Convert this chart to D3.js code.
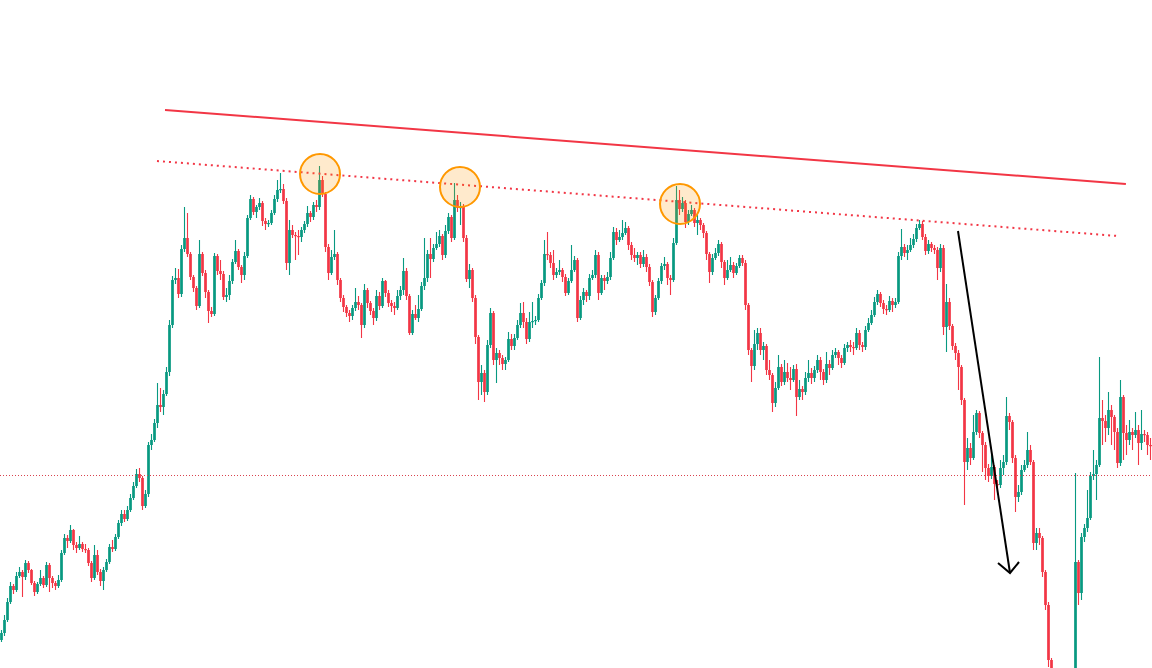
<!DOCTYPE html>
<html><head><meta charset="utf-8">
<script src="https://cdn.jsdelivr.net/npm/d3@7"></script>
<style>html,body{margin:0;padding:0;background:#fff;overflow:hidden}svg{display:block}</style>
</head>
<body>
<svg id="chart" width="1152" height="668"></svg>
<script>
// ---- data (price units) ----
const firstOpen = 60;
const closes = [
67,80,98,114,110,124,128,123,137,130,
117,108,116,122,115,135,122,117,114,120,
147,162,159,170,155,152,156,151,150,137,
122,145,128,119,130,138,153,151,163,177,
186,181,190,202,214,226,222,194,206,255,
260,277,295,293,306,328,375,420,422,406,
451,462,446,423,412,394,446,427,408,389,
386,444,429,426,403,405,419,438,449,433,
425,444,482,501,488,493,497,479,476,477,
487,501,510,511,499,437,470,465,464,463,
470,476,487,483,495,493,520,506,453,427,
443,446,420,402,393,387,384,392,398,395,
375,410,397,389,382,404,394,419,407,397,
394,392,404,410,429,404,367,386,382,391,
414,422,446,441,452,456,464,445,469,483,
462,500,492,493,462,421,430,402,363,318,
327,308,355,387,340,347,342,336,340,361,
354,362,375,387,378,361,378,379,380,402,
417,446,445,437,425,428,430,423,407,419,
430,440,382,400,408,404,422,425,445,407,
422,419,423,442,468,460,463,467,472,455,
445,442,445,436,443,433,418,388,402,419,
434,436,422,420,457,500,491,497,478,486,
490,477,480,475,467,446,428,442,447,456,
438,422,430,435,427,434,442,437,395,350,
334,356,367,350,354,330,325,297,312,333,
318,328,322,320,331,303,311,308,322,327,
322,330,340,328,320,336,332,345,348,342,
337,352,355,353,352,367,355,353,370,377,
385,398,406,397,391,390,399,395,398,444,
453,447,450,455,461,472,476,463,449,456,
452,450,432,452,373,398,374,354,347,333,
300,238,252,242,268,287,267,255,232,224,
233,216,215,232,238,284,278,242,203,208,
230,235,250,238,157,167,162,128,95,40,
12,6,3,8,2,5,9,14,138,107,
163,172,182,224,226,235,282,279,272,290,
283,268,237,303,267,260,268,265,270,257,
266,265,255,254
];
const highs = [
70,85,102,118,116,128,133,130,140,139,
131,119,118,130,124,138,137,124,119,125,
150,166,165,175,171,158,164,158,156,152,
139,155,150,131,133,141,156,160,166,180,
190,190,194,206,218,231,232,224,210,258,
266,281,317,312,310,333,380,424,432,431,
455,493,487,448,425,414,460,448,430,410,
393,447,446,440,429,412,425,441,460,451,
435,448,485,505,503,495,502,499,482,480,
490,505,520,527,516,502,480,475,468,470,
473,479,494,489,498,500,534,524,508,456,
450,470,448,422,405,395,390,395,412,404,
397,416,412,399,392,410,408,422,420,410,
400,398,410,414,442,432,406,390,395,405,
418,462,450,462,456,468,470,466,475,487,
485,517,505,498,496,465,436,432,405,365,
335,330,360,392,389,352,350,345,343,368,
366,366,380,397,398,382,388,398,384,406,
420,460,468,448,450,432,440,432,426,422,
455,444,442,404,412,410,426,430,450,448,
425,425,428,448,473,472,470,480,478,474,
458,452,448,448,450,446,436,420,405,422,
437,443,438,425,462,514,510,503,500,490,
495,492,485,482,477,469,448,446,452,460,
458,440,440,443,438,437,445,445,440,397,
352,370,372,372,358,356,340,327,318,345,
336,340,337,333,335,336,320,314,328,340,
332,334,345,343,331,348,340,350,352,350,
345,356,358,360,358,372,370,358,374,382,
390,403,410,408,400,395,404,402,402,448,
471,456,455,462,466,476,480,479,466,460,
458,455,453,456,455,416,402,376,357,350,
335,302,262,257,285,290,289,269,258,236,
245,235,220,240,245,303,287,280,245,215,
235,240,268,255,240,172,172,164,130,98,
42,20,10,14,12,10,15,25,227,140,
167,176,210,228,250,240,343,300,285,308,
295,285,272,320,305,275,280,272,288,275,
290,270,268,262
];
const lows = [
58,64,78,96,106,108,122,103,120,127,
115,104,106,114,112,113,108,112,110,112,
118,145,152,157,150,147,150,148,147,134,
118,120,125,114,110,128,136,148,149,161,
174,178,179,188,200,212,218,190,192,203,
250,258,272,288,285,304,324,372,416,402,
403,448,443,420,408,390,392,424,402,377,
383,384,425,420,400,398,400,416,436,430,
417,420,442,480,485,482,490,474,470,473,
475,485,498,507,496,430,425,462,440,445,
458,467,473,478,480,488,490,503,448,420,
425,440,415,398,388,383,378,380,389,390,
362,372,392,385,375,379,390,392,403,393,
388,385,390,400,405,400,365,365,380,378,
389,410,418,422,438,450,453,440,442,466,
458,460,488,475,458,418,412,398,356,300,
305,298,305,352,335,317,335,330,330,338,
350,350,360,372,372,356,358,372,375,378,
400,414,440,432,420,422,425,418,404,405,
417,428,378,380,395,398,400,420,422,400,
405,410,416,420,440,455,458,460,465,450,
440,438,435,432,433,428,414,383,385,400,
416,430,415,405,418,455,485,488,472,475,
484,473,465,470,462,440,417,425,440,444,
432,415,420,428,422,425,432,434,390,345,
318,330,350,345,340,325,320,288,293,310,
314,315,318,310,318,284,300,300,305,318,
316,318,327,320,315,317,325,330,342,335,
332,335,348,348,345,350,350,348,350,368,
375,383,395,393,386,385,388,388,392,396,
440,443,440,448,452,458,470,460,445,446,
448,446,420,428,365,348,370,350,340,310,
295,195,230,235,240,265,262,228,220,218,
221,200,205,212,225,235,270,237,188,198,
205,228,232,235,150,150,155,123,90,33,
0,0,0,0,0,0,0,0,10,95,
100,158,168,180,220,200,233,255,258,265,
255,250,232,234,240,245,255,250,262,235,
250,258,245,240
];
// drawings (t = bar index, p = price)
const resistanceLine = [{t:55, p:590},{t:375.3, p:516}];
const touchLine = [{t:52.33, p:539},{t:372.67, p:464}];
const touchPoints = [{t:106.67, p:526},{t:153.33, p:513},{t:226.67, p:496}];
const arrowShaft = [{t:319.33, p:469},{t:336.67, p:127}];
const arrowHead = [{t:332.67, p:137},{t:336.67, p:127},{t:339.67, p:138}];
const priceLevel = 225;

// ---- build candles ----
const candles = closes.map((c, i) => {
  const o = i === 0 ? firstOpen : closes[i - 1];
  return {i, o, c, h: Math.max(highs[i], o, c), l: Math.min(lows[i], o, c)};
});

const W = 1152, H = 668;
const svg = d3.select('#chart');
const x = d3.scaleLinear().domain([0, candles.length]).range([0, W]);
const y = d3.scaleLinear().domain([32, 700]).range([H, 0]);
const UP = '#089981', DOWN = '#f23645';
const bodyW = (x(1) - x(0)) * 0.9;

const g = svg.append('g');
const cg = g.selectAll('g.candle').data(candles).join('g').attr('class','candle');
cg.append('line')
  .attr('x1', d => Math.round(x(d.i + 0.5) - 0.5) + 0.5)
  .attr('x2', d => Math.round(x(d.i + 0.5) - 0.5) + 0.5)
  .attr('y1', d => y(d.h)).attr('y2', d => y(d.l))
  .attr('stroke', d => d.c >= d.o ? UP : DOWN).attr('stroke-width', 1.1);
cg.append('rect')
  .attr('x', d => x(d.i + 0.5) - bodyW / 2)
  .attr('width', bodyW)
  .attr('y', d => y(Math.max(d.o, d.c)))
  .attr('height', d => Math.max(1.2, Math.abs(y(d.o) - y(d.c))))
  .attr('fill', d => d.c >= d.o ? UP : DOWN);

// price level
svg.append('line')
  .attr('x1', 0).attr('x2', W)
  .attr('y1', Math.round(y(priceLevel)) + 0.5).attr('y2', Math.round(y(priceLevel)) + 0.5)
  .attr('stroke', '#d9434f').attr('stroke-width', 1).attr('stroke-dasharray', '1 2');

const line = d3.line().x(d => x(d.t)).y(d => y(d.p));
svg.append('path').attr('d', line(resistanceLine))
  .attr('fill','none').attr('stroke', '#f23645').attr('stroke-width', 2);
svg.append('path').attr('d', line(touchLine))
  .attr('fill','none').attr('stroke', '#f23645').attr('stroke-width', 2)
  .attr('stroke-dasharray', '2 4');

svg.selectAll('circle.touch').data(touchPoints).join('circle').attr('class','touch')
  .attr('cx', d => x(d.t)).attr('cy', d => y(d.p)).attr('r', 20)
  .attr('fill', 'rgba(255,152,0,0.2)').attr('stroke', '#ff9800').attr('stroke-width', 2);

svg.append('path').attr('d', line(arrowShaft))
  .attr('fill','none').attr('stroke', '#000').attr('stroke-width', 2);
svg.append('path').attr('d', line(arrowHead))
  .attr('fill','none').attr('stroke', '#000').attr('stroke-width', 2)
  .attr('stroke-linejoin','miter');
</script>
</body></html>
